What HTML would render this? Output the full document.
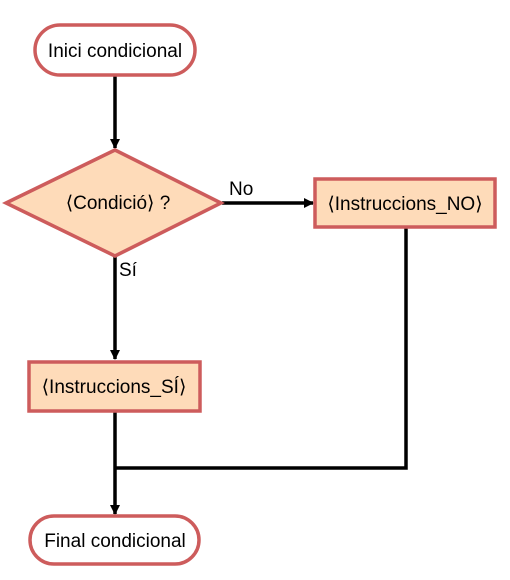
<!DOCTYPE html>
<html><head><meta charset="utf-8"><style>body{margin:0;background:#fff}svg{display:block}text{font-family:"Liberation Sans",sans-serif;font-size:19px;fill:#000}</style></head>
<body>
<svg width="510" height="580" viewBox="0 0 510 580" xmlns="http://www.w3.org/2000/svg">
<defs><marker id="a" markerWidth="10" markerHeight="10" refX="9" refY="5" orient="auto" markerUnits="userSpaceOnUse"><path d="M0,0 L10,5 L0,10 z" fill="#000"/></marker></defs>
<g stroke="#000" stroke-width="3.5" fill="none">
<line x1="115" y1="76" x2="115" y2="148" marker-end="url(#a)"/>
<line x1="222" y1="203" x2="313" y2="203" marker-end="url(#a)"/>
<line x1="115" y1="256" x2="115" y2="359" marker-end="url(#a)"/>
<line x1="115" y1="412" x2="115" y2="514" marker-end="url(#a)"/>
<polyline points="406,228 406,468 115,468"/>
</g>
<g stroke="#cd5c5c" stroke-width="3.5">
<rect x="35" y="25" width="160" height="50" rx="25" fill="#fff"/>
<polygon points="6,203 115,150 221,203 115,256" fill="#fedbb9"/>
<rect x="315" y="179" width="180" height="48" fill="#fedbb9"/>
<rect x="29" y="362" width="171" height="49" fill="#fedbb9"/>
<rect x="30" y="516" width="169" height="48" rx="24" fill="#fff"/>
</g>
<text x="115" y="57" text-anchor="middle">Inici condicional</text>
<text x="118" y="209" text-anchor="middle">⟨Condició⟩ ?</text>
<text x="229" y="195">No</text>
<text x="405" y="210" text-anchor="middle">⟨Instruccions_NO⟩</text>
<text x="119" y="276">Sí</text>
<text x="114" y="393" text-anchor="middle">⟨Instruccions_SÍ⟩</text>
<text x="115" y="547" text-anchor="middle">Final condicional</text>
</svg>
</body></html>
